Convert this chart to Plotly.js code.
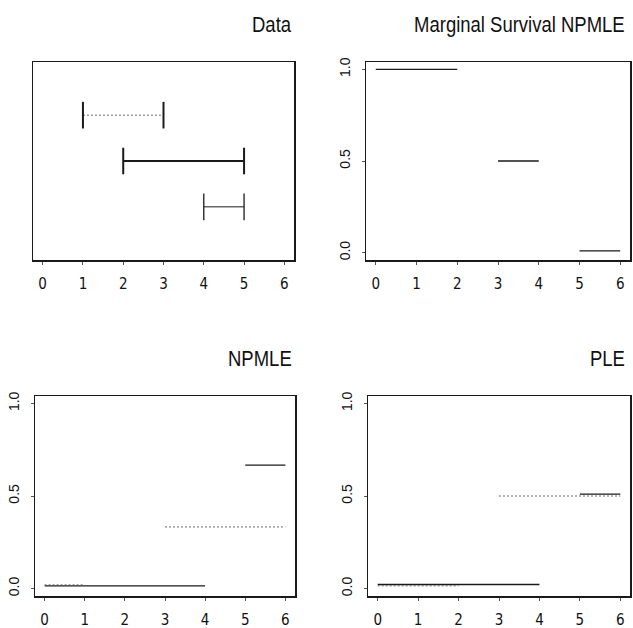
<!DOCTYPE html>
<html>
<head>
<meta charset="utf-8">
<script src="https://cdn.plot.ly/plotly-3.0.1.min.js"></script>
<style>
  html, body { margin: 0; padding: 0; background: #fff; }
  #chart { width: 633px; height: 628px; }
</style>
</head>
<body>
<div id="chart"></div>
<script>
// ---------------- data ----------------
const xTicks = [0, 1, 2, 3, 4, 5, 6];
const yTickVals = [0, 0.5, 1];
const yTickText = ['0.0', '0.5', '1.0'];

const panelTitles = ['Data', 'Marginal Survival NPMLE', 'NPMLE', 'PLE'];

// Panel 1: observed censoring intervals
const intervalLeft = [1, 2, 4];
const intervalRight = [3, 5, 5];
const intervalRow = [3, 2, 1];

// Panel 2: marginal survival NPMLE
const margStart = [0, 3, 5];
const margEnd = [2, 4, 6];
const margSurv = [1.0, 0.5, 0.01];

// Panel 3: NPMLE (dotted series A, solid series B)
const npmleAStart = [0, 3];
const npmleAEnd = [1, 6];
const npmleAValue = [0.02, 0.333];
const npmleBStart = [0, 5];
const npmleBEnd = [4, 6];
const npmleBValue = [0.015, 0.667];

// Panel 4: PLE (dotted series A, solid series B)
const pleAStart = [0, 3];
const pleAEnd = [2, 6];
const pleAValue = [0.015, 0.5];
const pleBStart = [0, 5];
const pleBEnd = [4, 6];
const pleBValue = [0.022, 0.51];

// ---------------- helpers ----------------
const W = 633, H = 628;
const fx = p => p / W;
const fy = p => 1 - p / H;

function segs(start, end, val) {
  const x = [], y = [];
  for (let i = 0; i < start.length; i++) {
    x.push(start[i], end[i], null);
    y.push(val[i], val[i], null);
  }
  return { x, y };
}

const INK = '#1a1a1a';
const DOT = '#666';
const intervalStyle = [
  { dash: '2px,2px', width: 1, color: DOT },
  { dash: 'solid', width: 2, color: INK },
  { dash: 'solid', width: 1, color: INK }
];

const traces = [];

// Panel 1 intervals
for (let i = 0; i < intervalLeft.length; i++) {
  const st = intervalStyle[i];
  traces.push({
    x: [intervalLeft[i], intervalRight[i]],
    y: [intervalRow[i], intervalRow[i]],
    xaxis: 'x', yaxis: 'y',
    mode: 'lines+markers',
    line: { color: st.color, width: st.width, dash: st.dash },
    marker: { symbol: 'line-ns-open', size: 19, color: INK, line: { color: INK, width: i === 2 ? 1.3 : 2 } },
    hoverinfo: 'skip', showlegend: false
  });
}

// Panel 2
(function () {
  const s = segs(margStart, margEnd, margSurv);
  traces.push({ x: s.x, y: s.y, xaxis: 'x2', yaxis: 'y2', mode: 'lines',
    line: { color: INK, width: 1.3 }, hoverinfo: 'skip', showlegend: false });
})();

// Panel 3
(function () {
  const b = segs(npmleBStart, npmleBEnd, npmleBValue);
  traces.push({ x: b.x, y: b.y, xaxis: 'x3', yaxis: 'y3', mode: 'lines',
    line: { color: INK, width: 1.3 }, hoverinfo: 'skip', showlegend: false });
  const a = segs(npmleAStart, npmleAEnd, npmleAValue);
  traces.push({ x: a.x, y: a.y, xaxis: 'x3', yaxis: 'y3', mode: 'lines',
    line: { color: DOT, width: 1, dash: '2px,2px' }, hoverinfo: 'skip', showlegend: false });
})();

// Panel 4
(function () {
  const b = segs(pleBStart, pleBEnd, pleBValue);
  traces.push({ x: b.x, y: b.y, xaxis: 'x4', yaxis: 'y4', mode: 'lines',
    line: { color: INK, width: 1.3 }, hoverinfo: 'skip', showlegend: false });
  const a = segs(pleAStart, pleAEnd, pleAValue);
  traces.push({ x: a.x, y: a.y, xaxis: 'x4', yaxis: 'y4', mode: 'lines',
    line: { color: DOT, width: 1, dash: '2px,2px' }, hoverinfo: 'skip', showlegend: false });
})();

// ---------------- layout ----------------
const narrow = "'Liberation Sans Narrow', 'DejaVu Sans Condensed', 'Liberation Sans', sans-serif";
const regular = "'Liberation Sans', Arial, sans-serif";

function xAxis(domL, domR, anchor) {
  return {
    domain: [fx(domL), fx(domR)], anchor: anchor,
    range: [-0.24, 6.24], tickmode: 'array', tickvals: xTicks, ticktext: xTicks.map(String),
    showline: true, mirror: true, linecolor: INK, linewidth: 1.5,
    ticks: 'outside', ticklen: 3, tickcolor: '#555', tickwidth: 1,
    ticklabelstandoff: 6,
    showgrid: false, zeroline: false, fixedrange: true,
    tickfont: { family: narrow, size: 15, color: '#111' }
  };
}
function yAxis(domTop, domBot, anchor, withTicks) {
  const ax = {
    domain: [fy(domBot), fy(domTop)], anchor: anchor,
    showline: true, mirror: true, linecolor: INK, linewidth: 1.5,
    showgrid: false, zeroline: false, fixedrange: true
  };
  if (withTicks) {
    Object.assign(ax, {
      range: [-0.04, 1.04], tickmode: 'array', tickvals: yTickVals, ticktext: yTickText,
      ticks: 'outside', ticklen: 3, tickcolor: '#555', tickwidth: 1, tickangle: -90,
      ticklabelstandoff: 6,
      tickfont: { family: regular, size: 14, color: '#111' }
    });
  } else {
    Object.assign(ax, { range: [-0.16, 4.16], showticklabels: false, ticks: '' });
  }
  return ax;
}

const boxes = [
  { l: 33, r: 294, t: 62, b: 260 },
  { l: 366, r: 630, t: 62, b: 260 },
  { l: 35, r: 295, t: 396, b: 596 },
  { l: 368, r: 630, t: 396, b: 596 }
];
const titleRight = [294, 627, 294, 627];

const layout = {
  width: W, height: H,
  margin: { l: 0, r: 0, t: 0, b: 0 },
  paper_bgcolor: '#fff', plot_bgcolor: '#fff',
  showlegend: false,
  xaxis: xAxis(boxes[0].l, boxes[0].r, 'y'),
  yaxis: yAxis(boxes[0].t, boxes[0].b, 'x', false),
  xaxis2: xAxis(boxes[1].l, boxes[1].r, 'y2'),
  yaxis2: yAxis(boxes[1].t, boxes[1].b, 'x2', true),
  xaxis3: xAxis(boxes[2].l, boxes[2].r, 'y3'),
  yaxis3: yAxis(boxes[2].t, boxes[2].b, 'x3', true),
  xaxis4: xAxis(boxes[3].l, boxes[3].r, 'y4'),
  yaxis4: yAxis(boxes[3].t, boxes[3].b, 'x4', true),
  annotations: panelTitles.map((t, i) => ({
    text: t, xref: 'paper', yref: 'paper',
    x: fx(titleRight[i]), xanchor: 'right',
    y: fy(boxes[i].t - 37), yanchor: 'middle',
    showarrow: false,
    font: { family: regular, size: 18.5, color: '#111' }
  }))
};

const gd = document.getElementById('chart');
Plotly.newPlot(gd, traces, layout, { staticPlot: true, displayModeBar: false }).then(() => {
  // stretch the title glyphs vertically around their baseline (tall narrow Helvetica look)
  gd.querySelectorAll('.annotation-text').forEach(el => {
    const y = parseFloat(el.getAttribute('y') || '0');
    el.setAttribute('transform', 'translate(0,' + y + ') scale(1,1.22) translate(0,' + (-y) + ')');
  });
});
</script>
</body>
</html>
